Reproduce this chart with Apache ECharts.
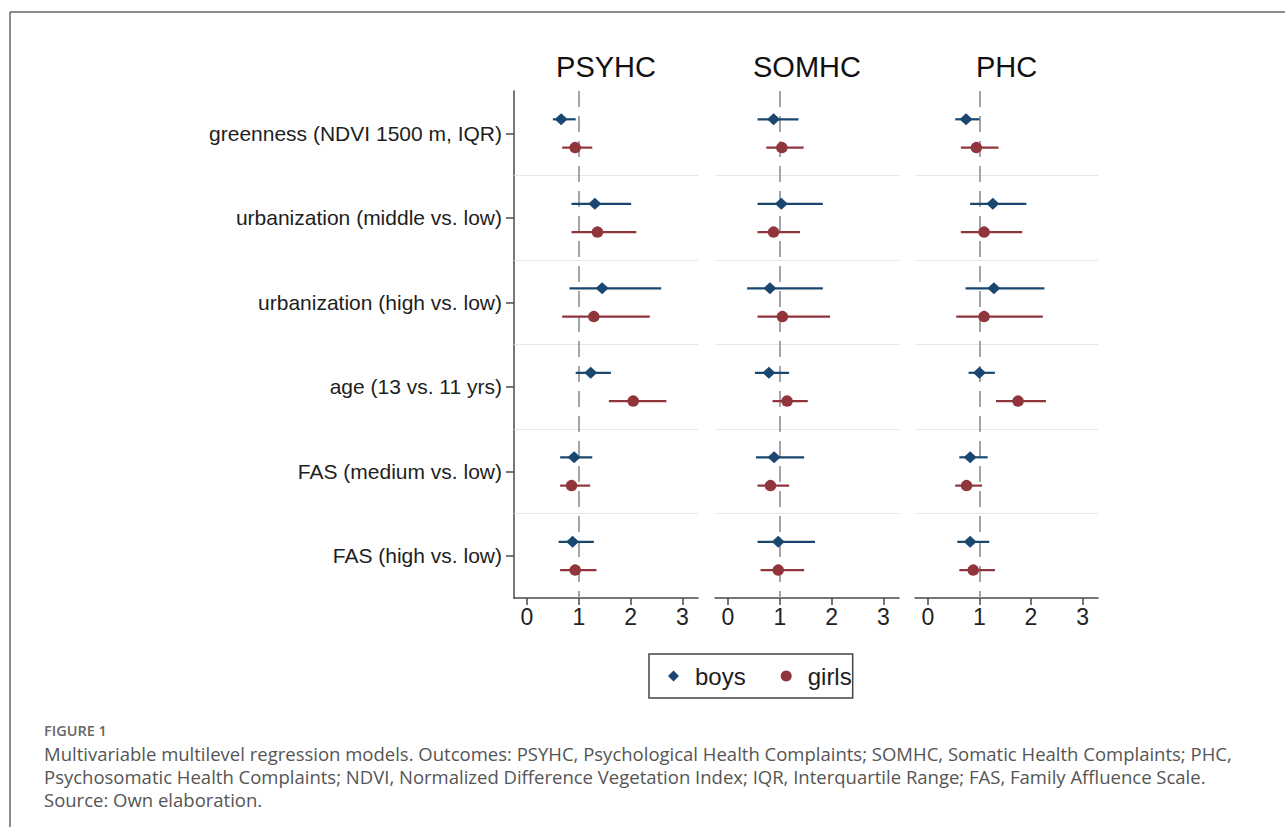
<!DOCTYPE html>
<html>
<head>
<meta charset="utf-8">
<script src="https://cdn.jsdelivr.net/npm/echarts@6/dist/echarts.min.js"></script>
<style>
  html, body { margin: 0; padding: 0; background: #ffffff; }
  #main { width: 1285px; height: 827px; }
</style>
</head>
<body>
<div id="main"></div>
<script>
// ---------- data ----------
const rows = [
  'greenness (NDVI 1500 m, IQR)',
  'urbanization (middle vs. low)',
  'urbanization (high vs. low)',
  'age (13 vs. 11 yrs)',
  'FAS (medium vs. low)',
  'FAS (high vs. low)'
];
const outcomes = ['PSYHC', 'SOMHC', 'PHC'];
const xTicks = [0, 1, 2, 3];
const refValue = 1;

const psyhcBoysEst = [0.66, 1.31, 1.45, 1.23, 0.91, 0.88];
const psyhcBoysLo  = [0.50, 0.86, 0.82, 0.94, 0.64, 0.61];
const psyhcBoysHi  = [0.94, 2.01, 2.59, 1.62, 1.26, 1.29];
const psyhcGirlsEst = [0.93, 1.36, 1.29, 2.05, 0.86, 0.93];
const psyhcGirlsLo  = [0.68, 0.86, 0.68, 1.58, 0.64, 0.64];
const psyhcGirlsHi  = [1.26, 2.11, 2.37, 2.69, 1.22, 1.34];

const somhcBoysEst = [0.88, 1.03, 0.81, 0.79, 0.89, 0.97];
const somhcBoysLo  = [0.57, 0.57, 0.37, 0.52, 0.54, 0.57];
const somhcBoysHi  = [1.36, 1.83, 1.83, 1.18, 1.47, 1.68];
const somhcGirlsEst = [1.04, 0.88, 1.05, 1.14, 0.82, 0.97];
const somhcGirlsLo  = [0.74, 0.57, 0.57, 0.86, 0.57, 0.63];
const somhcGirlsHi  = [1.46, 1.39, 1.97, 1.54, 1.18, 1.47];

const phcBoysEst = [0.74, 1.26, 1.28, 1.00, 0.82, 0.82];
const phcBoysLo  = [0.53, 0.82, 0.73, 0.79, 0.61, 0.57];
const phcBoysHi  = [1.00, 1.91, 2.26, 1.30, 1.16, 1.19];
const phcGirlsEst = [0.94, 1.09, 1.09, 1.75, 0.75, 0.88];
const phcGirlsLo  = [0.64, 0.64, 0.55, 1.32, 0.53, 0.61];
const phcGirlsHi  = [1.37, 1.83, 2.23, 2.29, 1.05, 1.30];

const captionLines = [
  'Multivariable multilevel regression models. Outcomes: PSYHC, Psychological Health Complaints; SOMHC, Somatic Health Complaints; PHC,',
  'Psychosomatic Health Complaints; NDVI, Normalized Difference Vegetation Index; IQR, Interquartile Range; FAS, Family Affluence Scale.',
  'Source: Own elaboration.'
];

// ---------- layout / style constants ----------
const boysColor = '#1a476f';
const girlsColor = '#90353b';
const boysOffset = -0.165;
const girlsOffset = 0.17;
const grids = [
  { left: 514, top: 91, width: 184, height: 507 },
  { left: 715, top: 91, width: 184, height: 507 },
  { left: 915, top: 91, width: 183, height: 507 }
];
const FONT = '"Liberation Sans", Arial, sans-serif';
const CAPFONT = '"Open Sans", sans-serif';

const groups = [
  { boys: [psyhcBoysEst, psyhcBoysLo, psyhcBoysHi], girls: [psyhcGirlsEst, psyhcGirlsLo, psyhcGirlsHi] },
  { boys: [somhcBoysEst, somhcBoysLo, somhcBoysHi], girls: [somhcGirlsEst, somhcGirlsLo, somhcGirlsHi] },
  { boys: [phcBoysEst, phcBoysLo, phcBoysHi], girls: [phcGirlsEst, phcGirlsLo, phcGirlsHi] }
];

const rowCenters = rows.map((_, i) => i + 0.5);
const separators = rows.slice(1).map((_, i) => i + 1);

const xAxes = [], yAxes = [], series = [];

function ciSeries(g, est, lo, hi, offset, color, withMarks) {
  const s = {
    type: 'custom',
    name: 'ci',
    xAxisIndex: g,
    yAxisIndex: g,
    silent: true,
    z: 2,
    encode: { x: [0, 1], y: 2 },
    data: est.map((_, i) => [lo[i], hi[i], i + 0.5 + offset]),
    renderItem: function (params, api) {
      const p1 = api.coord([api.value(0), api.value(2)]);
      const p2 = api.coord([api.value(1), api.value(2)]);
      return {
        type: 'line',
        shape: { x1: p1[0], y1: p1[1], x2: p2[0], y2: p2[1] },
        style: { stroke: color, lineWidth: 2.2 }
      };
    }
  };
  if (withMarks) {
    s.markLine = {
      silent: true,
      symbol: ['none', 'none'],
      label: { show: false },
      animation: false,
      z: 1,
      data: separators.map(v => ({ yAxis: v, lineStyle: { color: '#e2e9ed', width: 1.2, type: 'solid' } }))
        .concat([{ xAxis: refValue, lineStyle: { color: '#9c9c9c', width: 1.8, type: [16, 9] } }])
    };
  }
  return s;
}

outcomes.forEach((name, g) => {
  xAxes.push({
    type: 'value',
    gridIndex: g,
    position: 'bottom',
    min: -0.25,
    max: 3.3,
    splitLine: { show: false },
    axisLine: { show: true, onZero: false, lineStyle: { color: '#4a4a4a', width: 1.5 } },
    axisTick: { show: true, length: 7, customValues: xTicks, lineStyle: { color: '#4a4a4a', width: 1.5 } },
    axisLabel: { show: true, customValues: xTicks, margin: 7, fontSize: 23, color: '#222', fontFamily: FONT }
  });
  yAxes.push({
    type: 'value',
    gridIndex: g,
    position: 'left',
    min: 0,
    max: rows.length,
    inverse: true,
    splitLine: { show: false },
    axisLine: { show: g === 0, onZero: false, lineStyle: { color: '#4a4a4a', width: 1.5 } },
    axisTick: { show: g === 0, length: 8, customValues: rowCenters, lineStyle: { color: '#4a4a4a', width: 1.5 } },
    axisLabel: {
      show: g === 0,
      customValues: rowCenters,
      margin: 12,
      fontSize: 21,
      color: '#1e1e1e',
      fontFamily: FONT,
      formatter: function (v) { return rows[Math.round(v - 0.5)]; }
    }
  });
  const gb = groups[g].boys, gg = groups[g].girls;
  series.push(ciSeries(g, gb[0], gb[1], gb[2], boysOffset, boysColor, true));
  series.push(ciSeries(g, gg[0], gg[1], gg[2], girlsOffset, girlsColor, false));
  series.push({
    type: 'scatter', name: 'boys', xAxisIndex: g, yAxisIndex: g, z: 3,
    symbol: 'diamond', symbolSize: [13, 12],
    itemStyle: { color: boysColor, opacity: 1 },
    data: gb[0].map((v, i) => [v, i + 0.5 + boysOffset])
  });
  series.push({
    type: 'scatter', name: 'girls', xAxisIndex: g, yAxisIndex: g, z: 3,
    symbol: 'circle', symbolSize: 11.5,
    itemStyle: { color: girlsColor, opacity: 1 },
    data: gg[0].map((v, i) => [v, i + 0.5 + girlsOffset])
  });
});

const graphics = [
  { type: 'line', shape: { x1: 10, y1: 12, x2: 1285, y2: 12 }, style: { stroke: '#666', lineWidth: 1.5 } },
  { type: 'line', shape: { x1: 10, y1: 12, x2: 10, y2: 827 }, style: { stroke: '#666', lineWidth: 1.5 } }
];
outcomes.forEach((name, g) => {
  graphics.push({
    type: 'text',
    x: grids[g].left + grids[g].width / 2,
    y: 67,
    style: { text: name, fontSize: 29, fontFamily: FONT, fill: '#111', align: 'center', verticalAlign: 'middle' }
  });
});
graphics.push({
  type: 'text', x: 44, y: 730,
  style: { text: 'FIGURE 1', fontSize: 14.5, fontWeight: 600, fontFamily: CAPFONT, fill: '#666', align: 'left', verticalAlign: 'middle' }
});
captionLines.forEach((t, i) => {
  graphics.push({
    type: 'text', x: 44, y: 753 + i * 23,
    style: { text: t, fontSize: 18.5, fontFamily: CAPFONT, fill: '#555', align: 'left', verticalAlign: 'middle' }
  });
});

const chart = echarts.init(document.getElementById('main'), null, { renderer: 'svg' });
chart.setOption({
  animation: false,
  backgroundColor: '#ffffff',
  grid: grids,
  xAxis: xAxes,
  yAxis: yAxes,
  legend: {
    data: ['boys', 'girls'],
    left: 649,
    top: 654,
    orient: 'horizontal',
    padding: [10, 1, 10, 19],
    itemGap: 35,
    itemWidth: 11,
    itemHeight: 11,
    borderColor: '#444',
    borderWidth: 1.5,
    selectedMode: false,
    textStyle: { fontSize: 24, color: '#1e1e1e', fontFamily: FONT, padding: [0, 0, 0, 11] }
  },
  series: series,
  graphic: graphics
});
</script>
</body>
</html>
